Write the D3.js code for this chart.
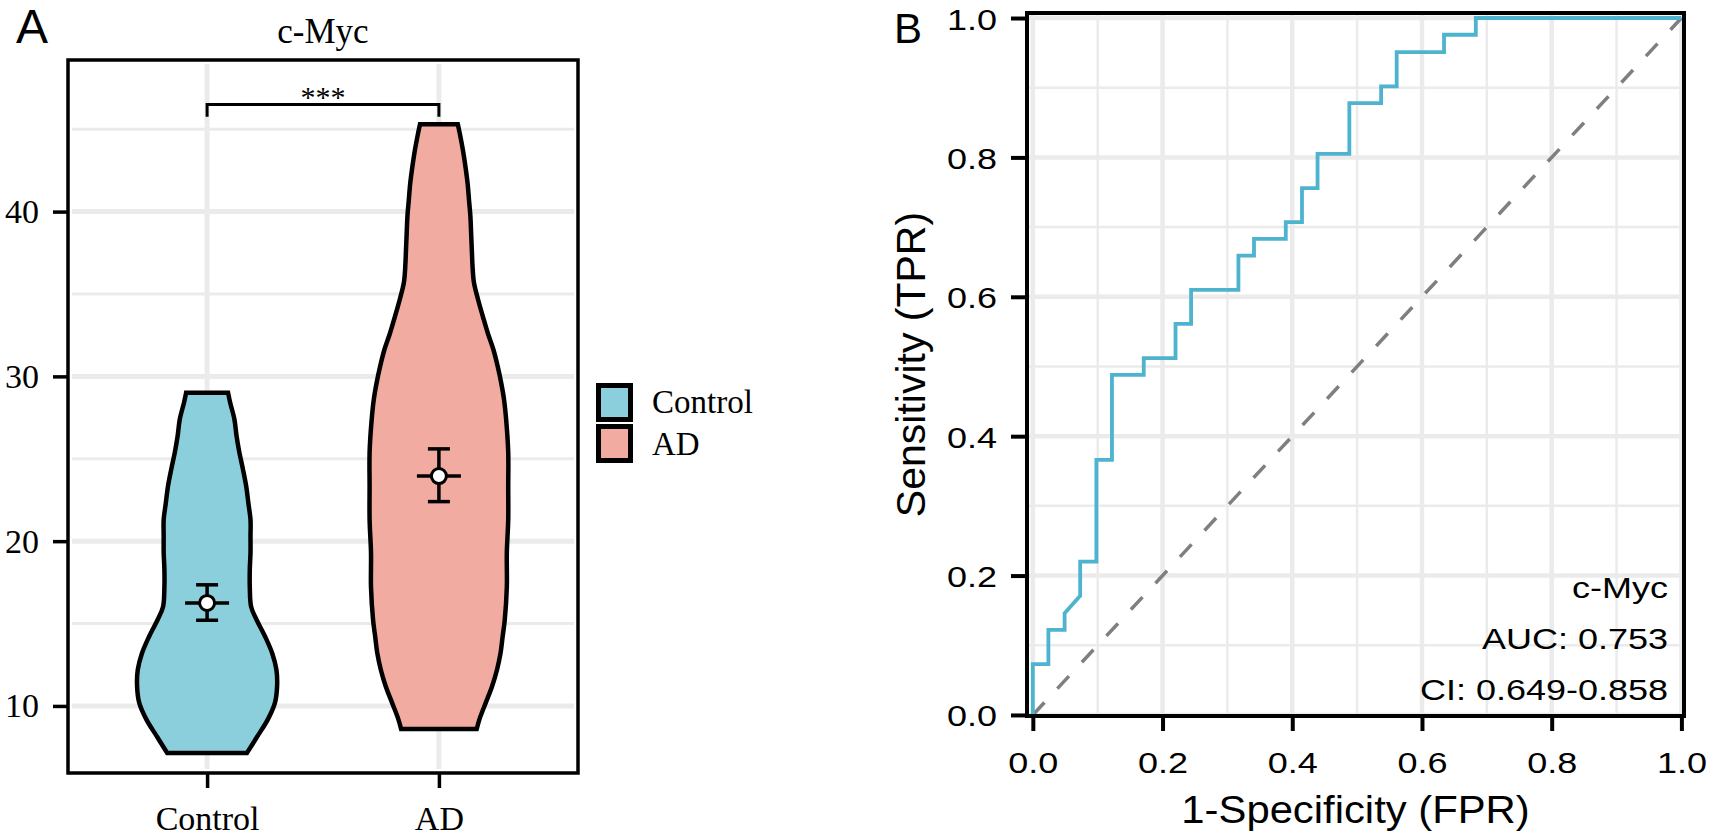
<!DOCTYPE html>
<html>
<head>
<meta charset="utf-8">
<script src="https://cdn.jsdelivr.net/npm/d3@7"></script>
<style>
  body { margin: 0; background: #fff; }
</style>
</head>
<body>
<div id="chart"></div>
<script>
// ---- data ----
const groups = ["Control", "AD"];
const groupFill = ["#8CCFDC", "#F1ABA1"];

// violin outlines: expression level and relative density (max = 1)
const controlLevel = [7.15, 8.1, 9.2, 10.2, 11.2, 12.2, 13.2, 14.2, 15.2, 16.0, 17.2, 18.3, 19.3, 20.3, 21.3, 22.3, 23.3, 24.4, 25.4, 26.4, 27.4, 28.4, 29.0];
const controlDensity = [0.57, 0.71, 0.87, 0.97, 1.0, 0.99, 0.93, 0.83, 0.71, 0.63, 0.61, 0.61, 0.62, 0.62, 0.62, 0.59, 0.56, 0.51, 0.46, 0.42, 0.39, 0.33, 0.30];
const adLevel = [8.6, 9.2, 10.2, 11.2, 12.2, 13.2, 14.2, 15.2, 17.2, 19.3, 21.3, 23.3, 25.4, 27.4, 28.6, 29.6, 30.6, 31.6, 32.6, 33.6, 34.65, 35.7, 36.7, 37.7, 38.7, 39.7, 40.7, 41.7, 42.7, 43.8, 44.7, 45.3];
const adDensity = [0.54, 0.58, 0.67, 0.76, 0.83, 0.88, 0.91, 0.94, 0.97, 0.97, 0.99, 0.99, 0.99, 0.96, 0.93, 0.89, 0.84, 0.78, 0.70, 0.63, 0.56, 0.50, 0.48, 0.47, 0.46, 0.45, 0.43, 0.41, 0.38, 0.34, 0.30, 0.27];

// mean and error bar per group
const meanValue = [16.25, 23.95];
const errLow = [15.2, 22.4];
const errHigh = [17.35, 25.6];

// significance bracket
const sigLevel = 46.5;
const sigTip = 45.75;
const sigLabel = "***";

const yTicksA = [10, 20, 30, 40];
const yMinorA = [15, 25, 35, 45];

// ROC curve (steps)
const fpr = [0, 0, 0.024, 0.024, 0.049, 0.049, 0.073, 0.073, 0.098, 0.098, 0.122, 0.122, 0.171, 0.171, 0.220, 0.220, 0.244, 0.244, 0.317, 0.317, 0.341, 0.341, 0.390, 0.390, 0.415, 0.415, 0.439, 0.439, 0.488, 0.488, 0.537, 0.537, 0.561, 0.561, 0.634, 0.634, 0.683, 0.683, 1];
const tpr = [0, 0.073, 0.073, 0.122, 0.122, 0.146, 0.171, 0.220, 0.220, 0.366, 0.366, 0.488, 0.488, 0.512, 0.512, 0.561, 0.561, 0.610, 0.610, 0.659, 0.659, 0.683, 0.683, 0.707, 0.707, 0.756, 0.756, 0.805, 0.805, 0.878, 0.878, 0.902, 0.902, 0.951, 0.951, 0.976, 0.976, 1, 1];
const rocTicks = [0, 0.2, 0.4, 0.6, 0.8, 1.0];
const rocMinor = [0.1, 0.3, 0.5, 0.7, 0.9];
const rocText = ["c-Myc", "AUC: 0.753", "CI: 0.649-0.858"];

// ---- setup ----
const serif = "'Liberation Serif', 'Times New Roman', serif";
const sans = "'Liberation Sans', Arial, sans-serif";
const grid = "#EBEBEB";
const stretch = 1.2; // panel B text is a bit wider than plain Arial

const svg = d3.select("#chart")
    .append("svg")
    .attr("width", 1713)
    .attr("height", 840)
    .style("background", "#fff");

// ================= panel A: violin =================
const A = {left: 68, right: 578, top: 60, bottom: 773};

const xA = d3.scalePoint()
    .domain(groups)
    .range([A.left, A.right])
    .padding(0.6);
const yA = d3.scaleLinear()
    .domain([5.93, 49.2])
    .range([A.bottom, A.top]);
const wA = d3.scaleLinear()
    .domain([0, 1])
    .range([0, 0.302 * xA.step()]);

const gA = svg.append("g");

// grid
gA.selectAll(".minorA")
  .data(yMinorA)
  .join("line")
    .attr("x1", A.left + 4).attr("x2", A.right - 4)
    .attr("y1", d => yA(d)).attr("y2", d => yA(d))
    .attr("stroke", grid).attr("stroke-width", 3);
gA.selectAll(".majorA")
  .data(yTicksA)
  .join("line")
    .attr("x1", A.left + 4).attr("x2", A.right - 4)
    .attr("y1", d => yA(d)).attr("y2", d => yA(d))
    .attr("stroke", grid).attr("stroke-width", 5);
gA.selectAll(".vgridA")
  .data(groups)
  .join("line")
    .attr("x1", d => xA(d)).attr("x2", d => xA(d))
    .attr("y1", A.top + 4).attr("y2", A.bottom - 4)
    .attr("stroke", grid).attr("stroke-width", 5);

// violins
const violins = [
  {group: "Control", fill: groupFill[0], pts: controlLevel.map((v, i) => ({v: v, d: controlDensity[i]}))},
  {group: "AD", fill: groupFill[1], pts: adLevel.map((v, i) => ({v: v, d: adDensity[i]}))}
];
gA.selectAll(".violin")
  .data(violins)
  .join("path")
    .attr("d", d => d3.area()
        .curve(d3.curveCatmullRom)
        .y(p => yA(p.v))
        .x0(p => xA(d.group) - wA(p.d))
        .x1(p => xA(d.group) + wA(p.d))(d.pts))
    .attr("fill", d => d.fill)
    .attr("stroke", "#000")
    .attr("stroke-width", 4.5)
    .attr("stroke-linejoin", "miter");

// error bars with mean point
const stats = groups.map((g, i) => ({g: g, m: meanValue[i], lo: errLow[i], hi: errHigh[i]}));
const eb = gA.selectAll(".eb").data(stats).join("g");
eb.append("line")
    .attr("x1", d => xA(d.g)).attr("x2", d => xA(d.g))
    .attr("y1", d => yA(d.lo)).attr("y2", d => yA(d.hi))
    .attr("stroke", "#000").attr("stroke-width", 3.5);
eb.append("line")
    .attr("x1", d => xA(d.g) - 11).attr("x2", d => xA(d.g) + 11)
    .attr("y1", d => yA(d.hi)).attr("y2", d => yA(d.hi))
    .attr("stroke", "#000").attr("stroke-width", 3.5);
eb.append("line")
    .attr("x1", d => xA(d.g) - 11).attr("x2", d => xA(d.g) + 11)
    .attr("y1", d => yA(d.lo)).attr("y2", d => yA(d.lo))
    .attr("stroke", "#000").attr("stroke-width", 3.5);
eb.append("line")
    .attr("x1", d => xA(d.g) - 22).attr("x2", d => xA(d.g) + 22)
    .attr("y1", d => yA(d.m)).attr("y2", d => yA(d.m))
    .attr("stroke", "#000").attr("stroke-width", 3.5);
eb.append("circle")
    .attr("cx", d => xA(d.g)).attr("cy", d => yA(d.m))
    .attr("r", 7.5)
    .attr("fill", "#fff").attr("stroke", "#000").attr("stroke-width", 3);

// significance bracket
gA.append("path")
    .attr("d", d3.line()([
      [xA(groups[0]), yA(sigTip)], [xA(groups[0]), yA(sigLevel)],
      [xA(groups[1]), yA(sigLevel)], [xA(groups[1]), yA(sigTip)]
    ]))
    .attr("fill", "none").attr("stroke", "#000").attr("stroke-width", 3);
gA.append("text")
    .attr("x", (xA(groups[0]) + xA(groups[1])) / 2)
    .attr("y", yA(sigLevel) + 3)
    .attr("text-anchor", "middle")
    .attr("font-family", serif).attr("font-size", 30)
    .text(sigLabel);

// border
gA.append("rect")
    .attr("x", A.left).attr("y", A.top)
    .attr("width", A.right - A.left).attr("height", A.bottom - A.top)
    .attr("fill", "none").attr("stroke", "#000").attr("stroke-width", 3.5);

// axes
svg.append("g")
    .attr("transform", `translate(${A.left},0)`)
    .call(d3.axisLeft(yA).tickValues(yTicksA).tickSize(15).tickPadding(14))
    .call(g => g.select(".domain").remove())
    .call(g => {
      g.selectAll("line").attr("stroke-width", 3.5);
      g.selectAll("text").attr("font-family", serif).attr("font-size", 34).attr("fill", "#000");
    });
svg.append("g")
    .attr("transform", `translate(0,${A.bottom})`)
    .call(d3.axisBottom(xA).tickSize(15))
    .call(g => g.select(".domain").remove())
    .call(g => {
      g.selectAll("line").attr("stroke-width", 3.5);
      g.selectAll("text").attr("y", 57).attr("dy", 0)
        .attr("font-family", serif).attr("font-size", 34).attr("fill", "#000");
    });

// title and panel tag
svg.append("text")
    .attr("x", (A.left + A.right) / 2).attr("y", 43)
    .attr("text-anchor", "middle")
    .attr("font-family", serif).attr("font-size", 35)
    .text("c-Myc");
svg.append("text")
    .attr("x", 16).attr("y", 43)
    .attr("font-family", sans).attr("font-size", 48)
    .text("A");

// legend
const leg = svg.append("g").attr("transform", "translate(598.5,385.5)");
leg.selectAll("rect")
  .data(groups)
  .join("rect")
    .attr("x", 0).attr("y", (d, i) => i * 41)
    .attr("width", 32).attr("height", 34)
    .attr("fill", (d, i) => groupFill[i])
    .attr("stroke", "#000").attr("stroke-width", 5);
leg.selectAll("text")
  .data(groups)
  .join("text")
    .attr("x", 53.5).attr("y", (d, i) => 27.5 + i * 42)
    .attr("font-family", serif).attr("font-size", 33)
    .text(d => d);

// ================= panel B: ROC =================
const B = {left: 1027, right: 1684, top: 13, bottom: 716};

const xB = d3.scaleLinear()
    .domain([-0.009, 1.004])
    .range([B.left, B.right]);
const yB = d3.scaleLinear()
    .domain([-0.0015, 1.0072])
    .range([B.bottom, B.top]);

const gB = svg.append("g");

// grid
[[rocMinor, 2.5], [rocTicks, 4.5]].forEach(([vals, w]) => {
  gB.append("g").selectAll("line")
    .data(vals)
    .join("line")
      .attr("x1", B.left).attr("x2", B.right)
      .attr("y1", d => yB(d)).attr("y2", d => yB(d))
      .attr("stroke", grid).attr("stroke-width", w);
  gB.append("g").selectAll("line")
    .data(vals)
    .join("line")
      .attr("x1", d => xB(d)).attr("x2", d => xB(d))
      .attr("y1", B.top).attr("y2", B.bottom)
      .attr("stroke", grid).attr("stroke-width", w);
});

// chance diagonal
gB.append("line")
    .attr("x1", xB(0)).attr("y1", yB(0))
    .attr("x2", xB(1)).attr("y2", yB(1))
    .attr("stroke", "#7F7F7F").attr("stroke-width", 3.5)
    .attr("stroke-dasharray", "17,19");

// ROC curve
gB.append("path")
    .datum(fpr.map((f, i) => [f, tpr[i]]))
    .attr("d", d3.line().x(d => xB(d[0])).y(d => yB(d[1])))
    .attr("fill", "none")
    .attr("stroke", "#4DB3CF")
    .attr("stroke-width", 3.8);

// border
gB.append("rect")
    .attr("x", B.left).attr("y", B.top)
    .attr("width", B.right - B.left).attr("height", B.bottom - B.top)
    .attr("fill", "none").attr("stroke", "#000").attr("stroke-width", 4);

// axes
svg.append("g")
    .attr("transform", `translate(${B.left},0)`)
    .call(d3.axisLeft(yB).tickValues(rocTicks).tickSize(16).tickFormat(d3.format(".1f")))
    .call(g => g.select(".domain").remove())
    .call(g => {
      g.selectAll("line").attr("stroke-width", 4);
      g.selectAll("text")
        .attr("x", -30 / stretch).attr("y", 11).attr("dy", 0)
        .attr("transform", `scale(${stretch},1)`)
        .attr("font-family", sans).attr("font-size", 30).attr("fill", "#000");
    });
svg.append("g")
    .attr("transform", `translate(0,${B.bottom})`)
    .call(d3.axisBottom(xB).tickValues(rocTicks).tickSize(15).tickFormat(d3.format(".1f")))
    .call(g => g.select(".domain").remove())
    .call(g => {
      g.selectAll("line").attr("stroke-width", 4);
      g.selectAll("text")
        .attr("y", 57).attr("dy", 0)
        .attr("transform", `scale(${stretch},1)`)
        .attr("font-family", sans).attr("font-size", 30).attr("fill", "#000");
    });

// axis titles
svg.append("text")
    .attr("transform", `translate(${(B.left + B.right) / 2},823) scale(1.1,1)`)
    .attr("text-anchor", "middle")
    .attr("font-family", sans).attr("font-size", 38)
    .text("1-Specificity (FPR)");
svg.append("text")
    .attr("transform", `translate(925,${(B.top + B.bottom) / 2}) rotate(-90)`)
    .attr("text-anchor", "middle")
    .attr("font-family", sans).attr("font-size", 41)
    .text("Sensitivity (TPR)");

// AUC annotation
svg.append("g").selectAll("text")
  .data(rocText)
  .join("text")
    .attr("transform", (d, i) => `translate(1668,${598 + i * 51}) scale(${stretch},1)`)
    .attr("text-anchor", "end")
    .attr("font-family", sans).attr("font-size", 30)
    .text(d => d);

svg.append("text")
    .attr("x", 894).attr("y", 43)
    .attr("font-family", sans).attr("font-size", 42)
    .text("B");
</script>
</body>
</html>
